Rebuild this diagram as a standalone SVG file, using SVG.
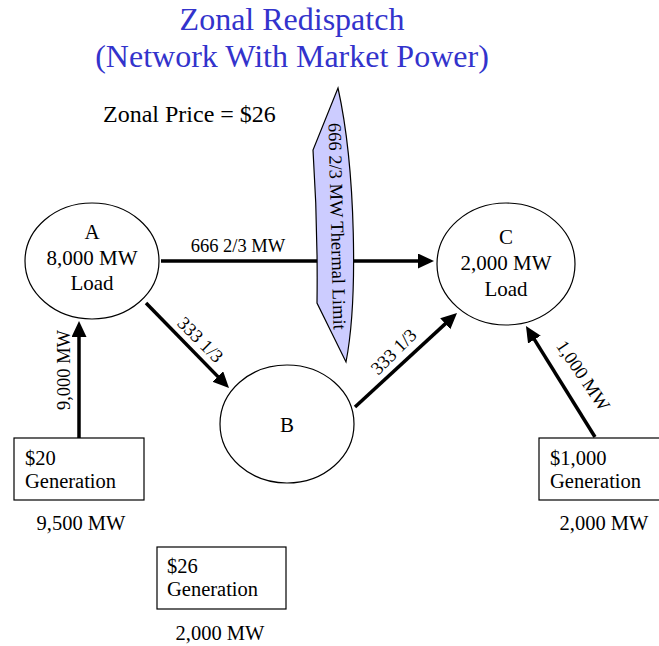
<svg xmlns="http://www.w3.org/2000/svg" width="659" height="646" viewBox="0 0 659 646">
<style>
text{font-family:"Liberation Serif","Times New Roman",serif;fill:#000}
.title{font-size:32px;fill:#3333CC;text-anchor:middle}
.node{fill:#fff;stroke:#000;stroke-width:1.2}
.nt{font-size:21px;text-anchor:middle}
.bt{font-size:20.5px}
.lbl{font-size:18.5px}
.mw{font-size:20.5px;text-anchor:middle}
.conn line{stroke:#000;stroke-width:3.5;marker-end:url(#ah)}
</style>
<defs>
<marker id="ah" markerUnits="userSpaceOnUse" markerWidth="18" markerHeight="16" refX="4" refY="7.5" orient="auto">
<path d="M0,0 L16,7.5 L0,15 z" fill="#000"/>
</marker>
</defs>
<rect width="659" height="646" fill="#fff"/>
<g id="title">
<text class="title" x="292" y="30">Zonal Redispatch</text>
<text class="title" x="292" y="67">(Network With Market Power)</text>
</g>
<text x="103" y="122" style="font-size:24px">Zonal Price = $26</text>
<g id="connectors" class="conn">
<line x1="161" y1="261" x2="422" y2="261"/>
<line x1="146" y1="303" x2="220.6" y2="379.4"/>
<line x1="355" y1="407" x2="448.2" y2="321.1"/>
<line x1="595" y1="437" x2="532.3" y2="336.2"/>
<line x1="79" y1="438" x2="79" y2="333"/>
</g>
<g id="labels">
<text class="lbl" x="238" y="252" text-anchor="middle">666 2/3 MW</text>
<text class="lbl" x="0" y="0" text-anchor="middle" transform="translate(196,344) rotate(45)">333 1/3</text>
<text class="lbl" x="0" y="0" text-anchor="middle" transform="translate(398,356) rotate(-45)">333 1/3</text>
<text class="lbl" x="0" y="0" text-anchor="middle" transform="translate(578,379) rotate(56)">1,000 MW</text>
<text class="lbl" x="0" y="0" text-anchor="middle" transform="translate(70,370) rotate(-90)">9,000 MW</text>
</g>
<g id="thermal-limit">
<path d="M338,88 C356,170 358,300 346,362 L317,303 Q318,226 313,150 Z" fill="#CCCCFF" stroke="#000" stroke-width="1.2"/>
<text x="0" y="0" text-anchor="middle" style="font-size:18.5px" transform="translate(331,226.5) rotate(88.6)">666 2/3 MW Thermal Limit</text>
</g>
<g id="node-A">
<ellipse class="node" cx="92" cy="261" rx="67" ry="58"/>
<text class="nt" x="92" y="239">A</text>
<text class="nt" x="92" y="265">8,000 MW</text>
<text class="nt" x="92" y="290">Load</text>
</g>
<g id="node-B">
<ellipse class="node" cx="287" cy="424" rx="67" ry="59"/>
<text class="nt" x="287" y="432">B</text>
</g>
<g id="node-C">
<ellipse class="node" cx="506" cy="264" rx="69" ry="61"/>
<text class="nt" x="506" y="244">C</text>
<text class="nt" x="506" y="270">2,000 MW</text>
<text class="nt" x="506" y="296">Load</text>
</g>
<g id="gen-20">
<rect class="node" x="14" y="438" width="130" height="62"/>
<text class="bt" x="25" y="465">$20</text>
<text class="bt" x="25" y="488">Generation</text>
<text class="mw" x="81" y="530">9,500 MW</text>
</g>
<g id="gen-26">
<rect class="node" x="157" y="547" width="129" height="62"/>
<text class="bt" x="167" y="573">$26</text>
<text class="bt" x="167" y="596">Generation</text>
<text class="mw" x="220" y="640">2,000 MW</text>
</g>
<g id="gen-1000">
<rect class="node" x="539" y="438" width="125" height="62"/>
<text class="bt" x="550" y="465">$1,000</text>
<text class="bt" x="550" y="488">Generation</text>
<text class="mw" x="604" y="530">2,000 MW</text>
</g>
</svg>
